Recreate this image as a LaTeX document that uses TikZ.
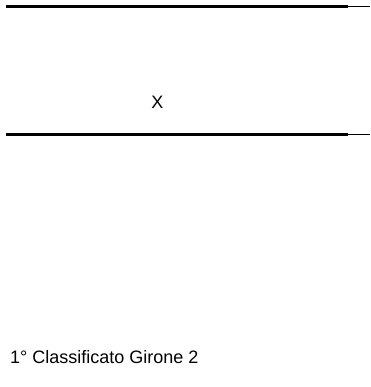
\documentclass[tikz,border=0pt]{standalone}
\usepackage{fontspec}
\setmainfont{Liberation Sans}
\begin{document}
\begin{tikzpicture}[x=1pt,y=-1pt,
  thickline/.style={line width=2.6pt},
  thinline/.style={line width=0.8pt},
  lbl/.style={inner sep=0pt,font=\fontsize{18}{21}\selectfont}]
\useasboundingbox (0,0) rectangle (370,387);
\coordinate (t0) at (6,6.3);
\coordinate (t1) at (348,6.3);
\coordinate (t2) at (370,6.3);
\coordinate (b0) at (6,134.5);
\coordinate (b1) at (348,134.5);
\coordinate (b2) at (370,134.5);
\draw[thickline] (t0) -- (t1);
\draw[thinline] (t1) -- (t2);
\draw[thickline] (b0) -- (b1);
\draw[thinline] (b1) -- (b2);
\node[lbl,anchor=base] (x) at (157.4,109) {X};
\node[lbl,anchor=base west] (cl) at (10,363) {1° Classificato Girone 2};
\end{tikzpicture}
\end{document}
